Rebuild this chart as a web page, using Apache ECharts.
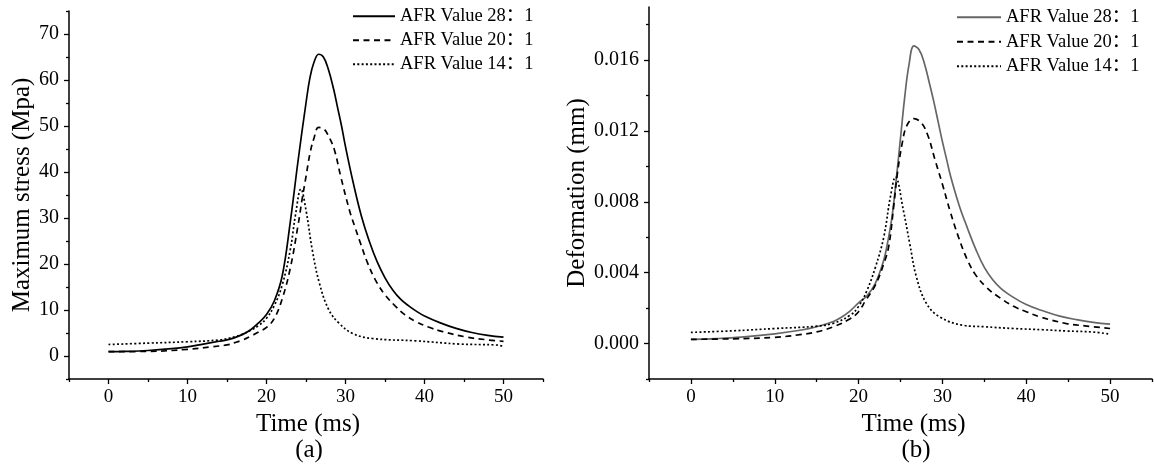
<!DOCTYPE html>
<html>
<head>
<meta charset="utf-8">
<script src="https://cdn.jsdelivr.net/npm/echarts@6/dist/echarts.min.js"></script>
<style>html,body{margin:0;padding:0;background:#fff}#c{width:1154px;height:466px}</style>
</head>
<body>
<div id="c"></div>
<script>
// ---------- data ----------
const legendLabels = ['AFR Value 28：1', 'AFR Value 20：1', 'AFR Value 14：1'];

// (a) Maximum stress (MPa)
const tA28 = [0, 2, 5, 8, 10, 12, 14, 15, 16, 17, 18, 19, 20, 21, 22, 23, 24, 25, 25.5, 26, 26.6, 27.2, 27.8, 28.5, 29, 29.5, 30, 31, 32, 33, 34, 35, 36, 37, 38, 39, 40, 42, 44, 46, 48, 50];
const sA28 = [0.95, 1.0, 1.2, 1.6, 2.0, 2.6, 3.2, 3.5, 4.0, 4.7, 5.7, 7.2, 9.0, 12.0, 17.5, 29, 42.5, 55, 60.5, 63.8, 65.6, 65.0, 62.5, 58, 54, 50, 45.5, 37.5, 30.5, 25, 20.5, 17, 14.3, 12.3, 10.9, 9.7, 8.7, 7.2, 6.0, 5.1, 4.5, 4.1];
const tA20 = [0, 5, 10, 13, 15, 16, 17, 18, 19, 20, 21, 22, 23, 24, 24.5, 25, 25.5, 26, 26.6, 27.3, 28, 28.6, 29.4, 30.5, 31.2, 31.9, 32.8, 33.8, 35, 36.4, 37.5, 38.9, 40.5, 42.3, 45.4, 48, 50];
const sA20 = [0.95, 1.0, 1.45, 2.0, 2.4, 2.9, 3.5, 4.3, 5.2, 6.2, 8.2, 12.5, 19, 28.5, 34, 39, 44, 47.3, 49.7, 49.3, 47.3, 44.8, 39, 31.7, 28, 24.5, 20.2, 16.5, 13.3, 10.7, 9.0, 7.5, 6.3, 5.3, 4.1, 3.5, 3.2];
const tA14 = [0, 5, 10, 14, 16, 17, 18, 19, 20, 21, 22, 23, 23.7, 24.35, 25, 25.8, 26.7, 27.9, 29.2, 30.9, 33.4, 38.9, 44.4, 49, 50];
const sA14 = [2.5, 2.8, 3.1, 3.5, 4.2, 4.8, 5.6, 6.6, 8.2, 11, 15.5, 23, 31, 36.3, 31.7, 23, 15.8, 10, 7.1, 4.9, 3.8, 3.3, 2.6, 2.4, 2.1];

// (b) Deformation (mm)
const tB28 = [0, 3, 6, 10, 13, 15, 17, 18, 19, 20, 21, 22, 23, 23.5, 24, 24.5, 25, 25.5, 26, 26.6, 27.2, 27.8, 28.5, 29, 29.5, 30, 30.5, 31, 32, 33, 34, 35, 36, 37, 38, 40, 42, 44, 46, 48, 50];
const dB28 = [0.00024, 0.00028, 0.00036, 0.00055, 0.00075, 0.00095, 0.00125, 0.0015, 0.00185, 0.0023, 0.0027, 0.0034, 0.0047, 0.0058, 0.0072, 0.0093, 0.0116, 0.0139, 0.0157, 0.0168, 0.0166, 0.0159, 0.0146, 0.0136, 0.0125, 0.0114, 0.0104, 0.0094, 0.0078, 0.0065, 0.0053, 0.0043, 0.0036, 0.0031, 0.00275, 0.0022, 0.00185, 0.00155, 0.00135, 0.0012, 0.0011];
const tB20 = [0, 5, 10, 13, 15, 17, 19, 20, 20.8, 22, 23, 23.6, 24.2, 24.6, 25.2, 25.75, 26.6, 27.5, 28.3, 29.1, 30, 30.9, 32, 33, 34, 35.3, 36.5, 38.5, 40, 41.7, 44.8, 47, 50];
const dB20 = [0.00024, 0.00027, 0.00035, 0.0005, 0.00066, 0.00095, 0.0014, 0.0018, 0.0024, 0.0033, 0.0045, 0.0055, 0.0078, 0.0095, 0.0113, 0.0123, 0.0127, 0.01245, 0.0117, 0.0104, 0.0090, 0.0075, 0.0059, 0.0047, 0.00385, 0.00315, 0.0027, 0.0021, 0.0018, 0.0015, 0.00113, 0.001, 0.00085];
const tB14 = [0, 5, 10, 15, 17, 19, 20, 21, 22, 23, 23.8, 24.4, 25.35, 26.1, 26.9, 28.1, 29.7, 32.5, 35, 38.5, 42, 44.8, 48, 50];
const dB14 = [0.00063, 0.00072, 0.00085, 0.00098, 0.00115, 0.0016, 0.0021, 0.0030, 0.0043, 0.0060, 0.0083, 0.0094, 0.0075, 0.00565, 0.00376, 0.00226, 0.0015, 0.00103, 0.00095, 0.00085, 0.00078, 0.00071, 0.00065, 0.00053];

// tick values
const xMajor = [0, 10, 20, 30, 40, 50];
const xMinor = [-5, 5, 15, 25, 35, 45, 55];
const yAMajor = [0, 10, 20, 30, 40, 50, 60, 70];
const yAMinor = [-5, 5, 15, 25, 35, 45, 55, 65, 75];
const yBMajor = [0, 0.004, 0.008, 0.012, 0.016];
const yBMinor = [-0.002, 0.002, 0.006, 0.010, 0.014, 0.018];

// ---------- chart ----------
const serif = '"Liberation Serif", "Times New Roman", "Noto Sans CJK SC", serif';
const pairs = (t, v) => t.map((x, i) => [x, v[i]]);
const tickStyle = { color: '#000', width: 1.3 };

function mainX(grid, namePad) {
  return {
    type: 'value', gridIndex: grid, position: 'bottom', min: -5, max: 55,
    name: 'Time (ms)', nameLocation: 'middle', nameGap: 30,
    nameTextStyle: { fontFamily: serif, fontSize: 25, color: '#000', padding: namePad },
    axisLine: { show: true, onZero: false, lineStyle: { color: '#000', width: 1.5 } },
    axisTick: { show: false },
    axisLabel: { customValues: xMajor, margin: 9, fontFamily: serif, fontSize: 19, color: '#000' },
    splitLine: { show: false }
  };
}
function tickX(grid, vals, len) {
  return {
    type: 'value', gridIndex: grid, position: 'bottom', min: -5, max: 55,
    axisLine: { show: false, onZero: false },
    axisTick: { show: true, inside: false, length: len, customValues: vals, lineStyle: tickStyle },
    axisLabel: { show: false }, splitLine: { show: false }
  };
}
function mainY(grid, min, max, major, name, gap, fmt) {
  return {
    type: 'value', gridIndex: grid, position: 'left', min: min, max: max,
    name: name, nameLocation: 'middle', nameGap: gap,
    nameTextStyle: { fontFamily: serif, fontSize: 25, color: '#000' },
    axisLine: { show: true, onZero: false, lineStyle: { color: '#000', width: 1.5 } },
    axisTick: { show: false },
    axisLabel: { customValues: major, margin: 10, fontFamily: serif, fontSize: 20, color: '#000', formatter: fmt },
    splitLine: { show: false }
  };
}
function tickY(grid, min, max, vals, len) {
  return {
    type: 'value', gridIndex: grid, position: 'left', min: min, max: max,
    axisLine: { show: false, onZero: false },
    axisTick: { show: true, inside: false, length: len, customValues: vals, lineStyle: tickStyle },
    axisLabel: { show: false }, splitLine: { show: false }
  };
}
function line(name, xi, yi, data, color, type) {
  return {
    type: 'line', name: name, xAxisIndex: xi, yAxisIndex: yi, data: data,
    smooth: 0.4, symbol: 'none', showSymbol: false,
    lineStyle: { color: color, width: 1.7, type: type },
    itemStyle: { color: color }, silent: true
  };
}
function legendFor(keys, left, top, w, gap) {
  return {
    data: keys, orient: 'vertical', left: left, top: top, padding: 0,
    itemWidth: w, itemHeight: 18, itemGap: gap, selectedMode: false,
    itemStyle: { opacity: 0, borderWidth: 0 },
    formatter: n => legendLabels[keys.indexOf(n)],
    textStyle: { fontFamily: serif, fontSize: 18.5, color: '#000', lineHeight: 18 }
  };
}

const dash = [6, 4.5];
const dot = [2, 2.3];
const gray = '#666666';

const chart = echarts.init(document.getElementById('c'), null, { renderer: 'canvas' });
chart.setOption({
  animation: false,
  backgroundColor: '#fff',
  grid: [
    { left: 69, right: 1154 - 543, top: 11, bottom: 87, containLabel: false },
    { left: 649, right: 2, top: 7, bottom: 87, containLabel: false }
  ],
  xAxis: [
    mainX(0, [0, 0, 0, 4]), tickX(0, xMajor, 5), tickX(0, xMinor, 3),
    mainX(1, [0, 0, 0, 26]), tickX(1, xMajor, 5), tickX(1, xMinor, 3)
  ],
  yAxis: [
    mainY(0, -5, 75, yAMajor, 'Maximum stress (Mpa)', 34, v => String(v)),
    tickY(0, -5, 75, yAMajor, 5), tickY(0, -5, 75, yAMinor, 3),
    mainY(1, -0.002, 0.019, yBMajor, 'Deformation (mm)', 57, v => v.toFixed(3)),
    tickY(1, -0.002, 0.019, yBMajor, 5), tickY(1, -0.002, 0.019, yBMinor, 3)
  ],
  legend: [
    legendFor(['a28', 'a20', 'a14'], 352, 7, 42, 5.5),
    legendFor(['b28', 'b20', 'b14'], 956, 8, 44, 6)
  ],
  graphic: [
    { type: 'text', x: 309, y: 450, style: { text: '(a)', fontFamily: serif, fontSize: 25, fill: '#000', textAlign: 'center', textVerticalAlign: 'middle' } },
    { type: 'text', x: 916, y: 450, style: { text: '(b)', fontFamily: serif, fontSize: 25, fill: '#000', textAlign: 'center', textVerticalAlign: 'middle' } }
  ],
  series: [
    line('a28', 0, 0, pairs(tA28, sA28), '#000', 'solid'),
    line('a20', 0, 0, pairs(tA20, sA20), '#000', dash),
    line('a14', 0, 0, pairs(tA14, sA14), '#000', dot),
    line('b28', 3, 3, pairs(tB28, dB28), gray, 'solid'),
    line('b20', 3, 3, pairs(tB20, dB20), '#000', dash),
    line('b14', 3, 3, pairs(tB14, dB14), '#000', dot)
  ]
});
</script>
</body>
</html>
